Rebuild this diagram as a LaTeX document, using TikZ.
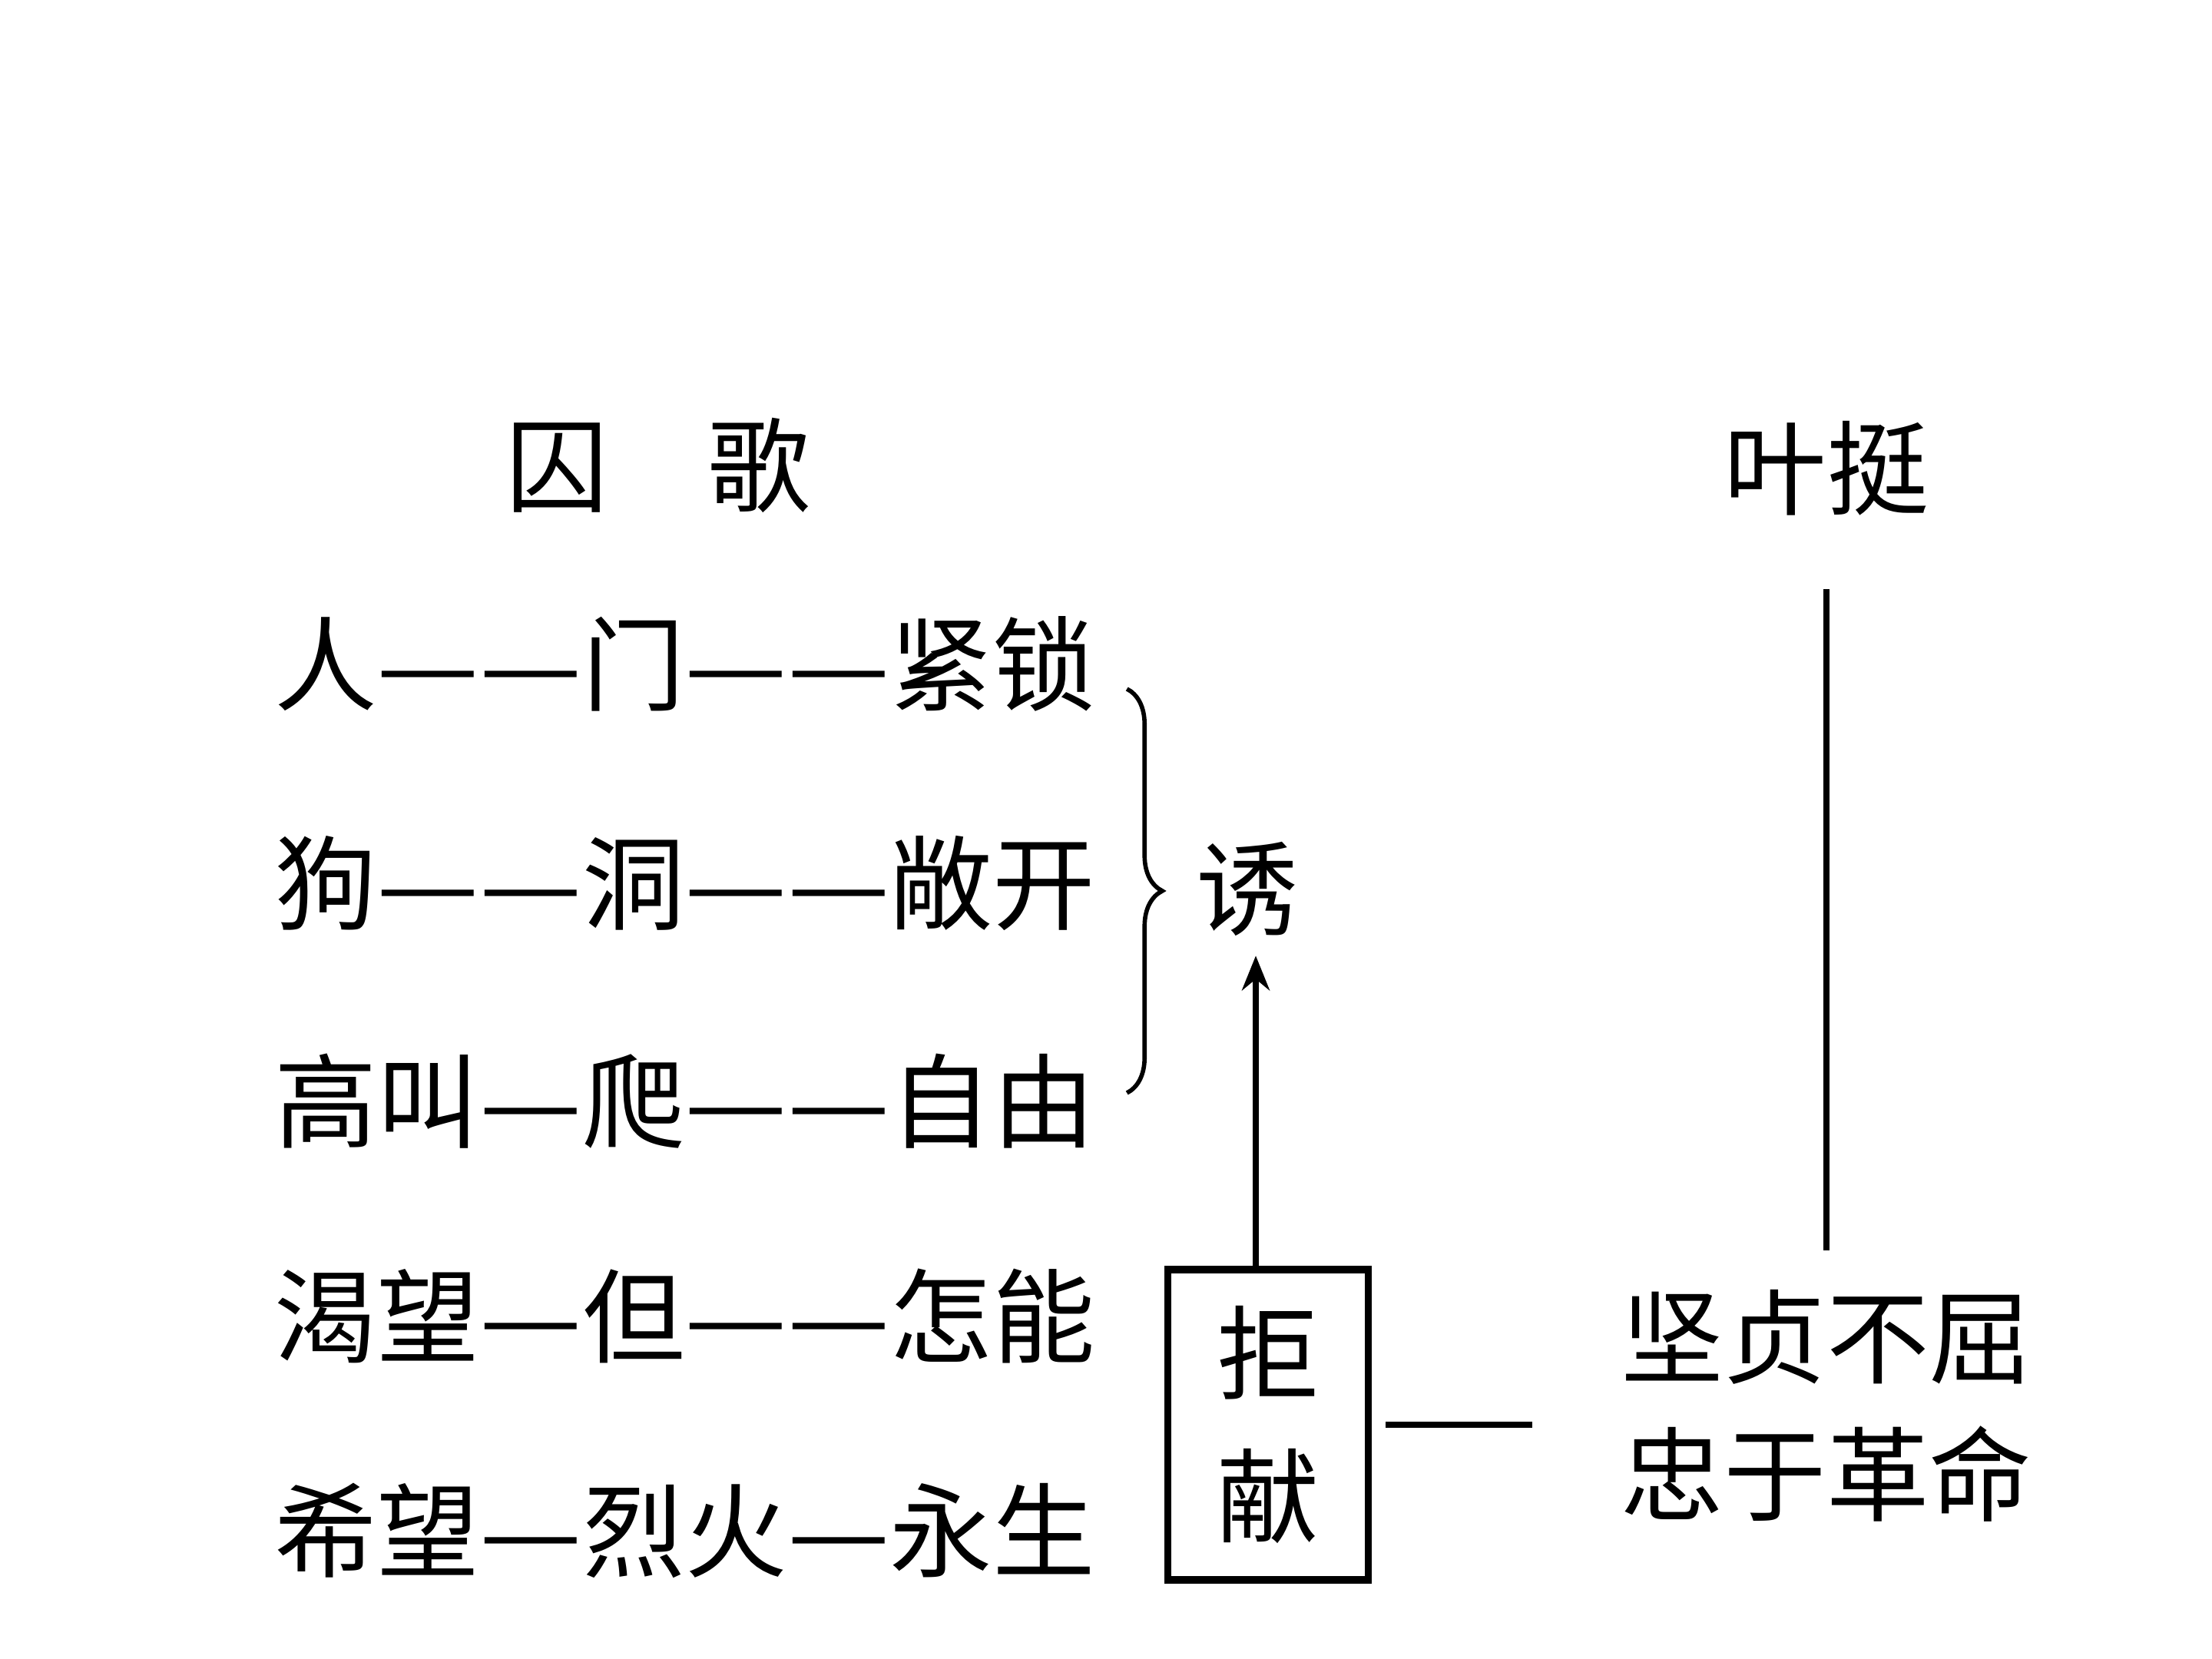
\documentclass[tikz,border=0pt]{standalone}
\usepackage{fontspec}
\usepackage{graphicx}
\setmainfont{Noto Sans CJK SC}
\usetikzlibrary{arrows.meta, positioning, calc, decorations.pathreplacing}
\newcommand{\cjkdash}{\makebox[1em]{\scalebox{1.12}[1]{—}}}
\tikzset{
  every picture/.style={line width=2.5pt},
  word/.style={inner sep=0pt, text height=1.18cm, text depth=0.16cm, font=\fontsize{38}{53}\selectfont},
  stack/.style={inner sep=0pt, align=center, font=\fontsize{38}{#1}\selectfont},
  stack/.default=53,
  link/.style={draw=black, line width=2.5pt},
  arrow/.style={-{Stealth[length=4.5mm, width=3.6mm]}, draw=black, line width=2.2pt},
}
\begin{document}
\begin{tikzpicture}[row/.style={word, anchor=west}]
  \useasboundingbox (0,0) rectangle (28.8,21.6);
  \node[word] (qiu) at (7.25, 15.54) {囚};
  \node[word] (ge) at (9.88, 15.54) {歌};
  \node[word] (ye) at (23.78, 15.50) {叶挺};
  \node[row] (r1) at (3.53, 12.95) {人\cjkdash\cjkdash{}门\cjkdash\cjkdash{}紧锁};
  \node[row] (r2) at (3.53, 10.10) {狗\cjkdash\cjkdash{}洞\cjkdash\cjkdash{}敞开};
  \node[row] (r3) at (3.53, 7.26) {高叫\cjkdash{}爬\cjkdash\cjkdash{}自由};
  \node[row] (r4) at (3.53, 4.46) {渴望\cjkdash{}但\cjkdash\cjkdash{}怎能};
  \node[row] (r5) at (3.53, 1.67) {希望\cjkdash{}烈火\cjkdash{}永生};
  \node[word] (you) at (16.24, 10.03) {诱};
  \node[stack=53, draw, line width=2.6pt, minimum width=2.61cm, minimum height=4.04cm] (refuse) at (16.51, 3.05) {拒\\献};
  \node[stack=51] (firm) at (23.78, 3.30) {坚贞不屈\\忠于革命};
  \draw[line width=1.6pt, decorate, decoration={brace, amplitude=0.46cm}]
    ($(r1.east)+(0.37,-0.32)$) -- ($(r3.east)+(0.37,0.11)$);
  \draw[arrow, shorten >=0.16cm] ([xshift=-0.16cm]refuse.north) -- ([xshift=0.11cm]you.south);
  \draw[link, shorten <=0.18cm, shorten >=1.12cm] (refuse.east) -- (refuse.east -| firm.west);
  \draw[link, shorten <=0.86cm, shorten >=0.46cm] (ye.south) -- (firm.north);
\end{tikzpicture}
\end{document}
